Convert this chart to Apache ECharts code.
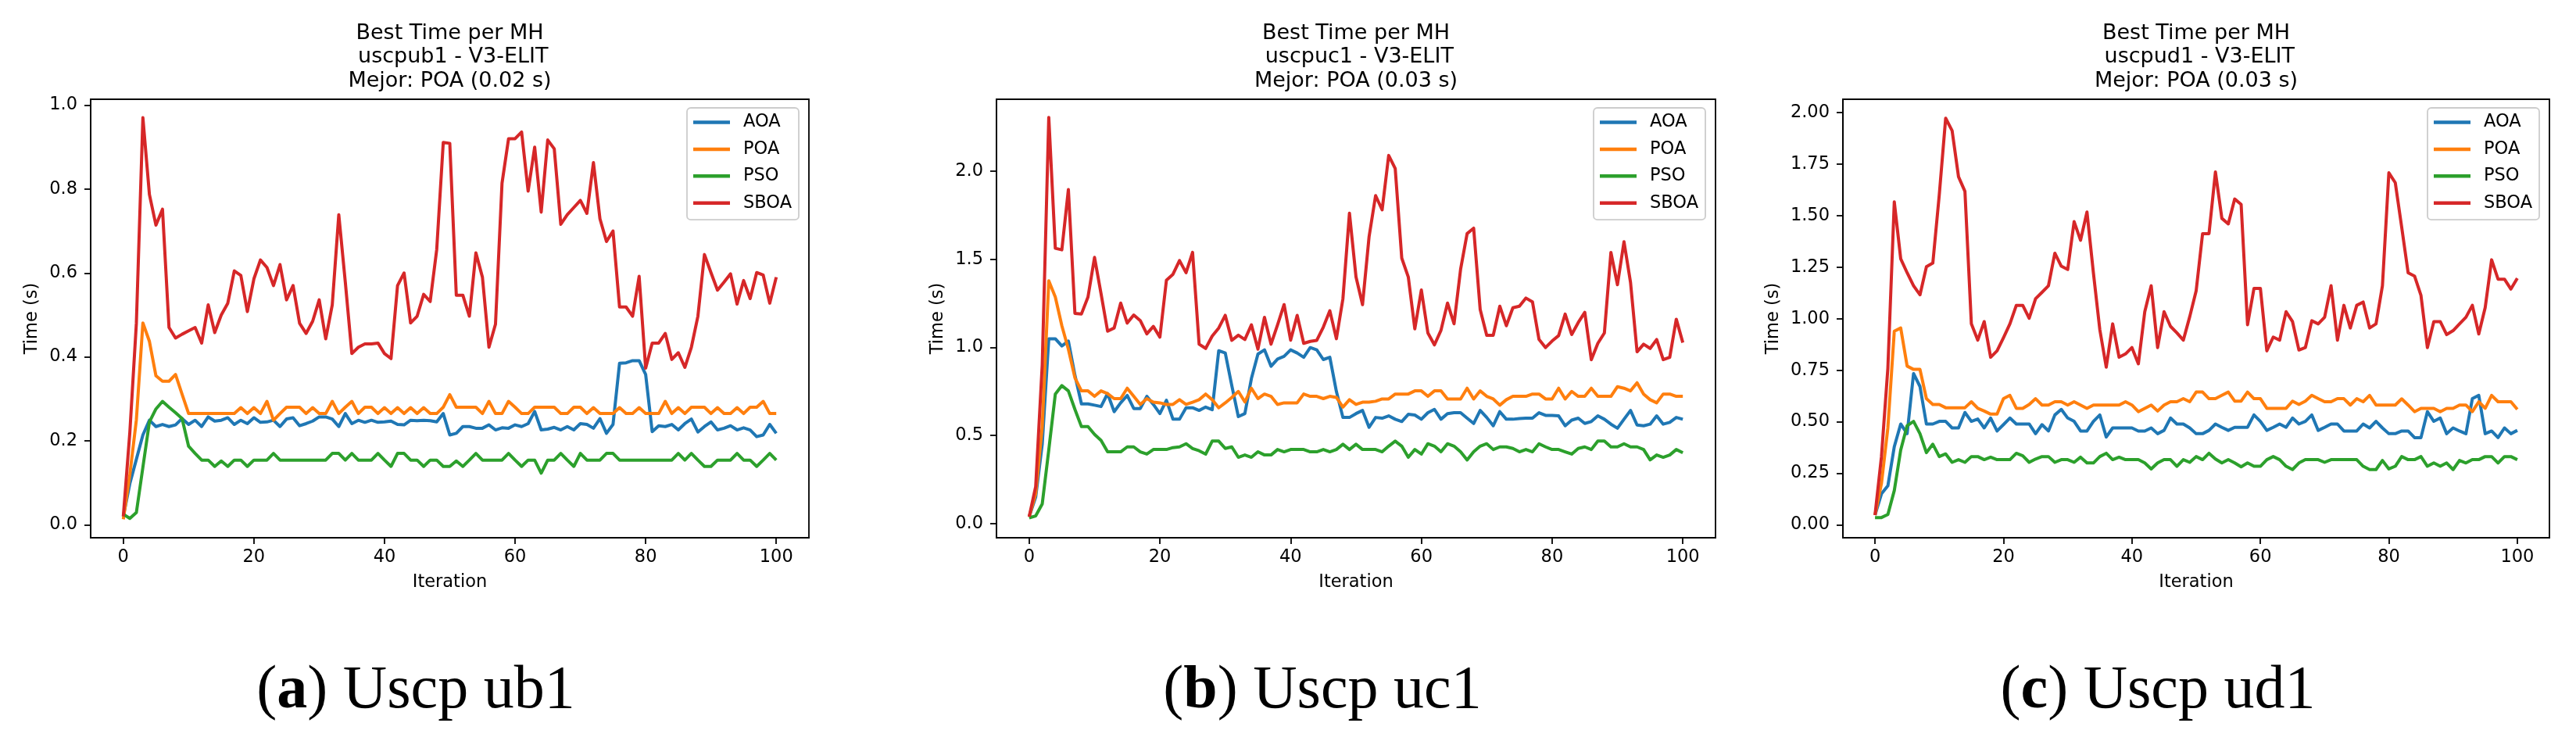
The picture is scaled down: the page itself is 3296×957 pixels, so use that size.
<!DOCTYPE html>
<html>
<head>
<meta charset="utf-8">
<script src="https://cdn.jsdelivr.net/npm/echarts@6/dist/echarts.min.js"></script>
<style>
  body { margin: 0; background: #fff; }
  #chart { width: 3296px; height: 957px; }
</style>
</head>
<body>
<div id="chart"></div>
<script>
const seriesNames = ["AOA", "POA", "PSO", "SBOA"];
const seriesColors = ["#1f77b4", "#ff7f0e", "#2ca02c", "#d62728"];
const xTicks = [0, 20, 40, 60, 80, 100];

// (a) uscpub1
const ub1AOA = [0.02, 0.098, 0.156, 0.214, 0.249, 0.234, 0.239, 0.234, 0.238, 0.253,
  0.239, 0.249, 0.234, 0.257, 0.247, 0.249, 0.255, 0.239, 0.249, 0.241,
  0.255, 0.244, 0.245, 0.249, 0.234, 0.252, 0.255, 0.236, 0.241, 0.247,
  0.257, 0.257, 0.252, 0.234, 0.265, 0.241, 0.249, 0.244, 0.249, 0.244,
  0.245, 0.247, 0.239, 0.238, 0.249, 0.248, 0.249, 0.248, 0.245, 0.265,
  0.214, 0.218, 0.234, 0.234, 0.23, 0.23, 0.238, 0.226, 0.231, 0.23,
  0.238, 0.234, 0.241, 0.27, 0.226, 0.228, 0.232, 0.226, 0.234, 0.226,
  0.241, 0.239, 0.23, 0.253, 0.218, 0.239, 0.385, 0.386, 0.391, 0.391,
  0.358, 0.222, 0.236, 0.234, 0.239, 0.226, 0.241, 0.252, 0.221, 0.234,
  0.245, 0.226, 0.23, 0.236, 0.226, 0.231, 0.226, 0.21, 0.214, 0.239, 0.218];
const ub1POA = [0.013, 0.12, 0.25, 0.481, 0.437, 0.355, 0.342, 0.342, 0.358, 0.311,
  0.265, 0.265, 0.265, 0.265, 0.265, 0.265, 0.265, 0.265, 0.279, 0.265,
  0.279, 0.265, 0.294, 0.249, 0.265, 0.28, 0.28, 0.28, 0.265, 0.279,
  0.265, 0.265, 0.294, 0.265, 0.28, 0.294, 0.265, 0.28, 0.28, 0.265,
  0.279, 0.265, 0.279, 0.265, 0.279, 0.265, 0.279, 0.265, 0.265, 0.28,
  0.31, 0.28, 0.28, 0.28, 0.28, 0.265, 0.294, 0.265, 0.265, 0.294,
  0.28, 0.265, 0.265, 0.28, 0.28, 0.28, 0.28, 0.265, 0.265, 0.28,
  0.28, 0.265, 0.279, 0.265, 0.265, 0.265, 0.279, 0.265, 0.265, 0.279,
  0.265, 0.265, 0.265, 0.294, 0.265, 0.279, 0.265, 0.28, 0.28, 0.28,
  0.265, 0.279, 0.265, 0.265, 0.279, 0.265, 0.28, 0.28, 0.294, 0.265, 0.265];
const ub1PSO = [0.025, 0.015, 0.029, 0.137, 0.245, 0.276, 0.294, 0.28, 0.267, 0.253,
  0.187, 0.17, 0.154, 0.154, 0.139, 0.152, 0.139, 0.154, 0.154, 0.139,
  0.154, 0.154, 0.154, 0.17, 0.154, 0.154, 0.154, 0.154, 0.154, 0.154,
  0.154, 0.154, 0.17, 0.17, 0.154, 0.17, 0.154, 0.154, 0.154, 0.17,
  0.154, 0.139, 0.17, 0.17, 0.154, 0.154, 0.139, 0.154, 0.154, 0.139,
  0.139, 0.152, 0.139, 0.154, 0.17, 0.154, 0.154, 0.154, 0.154, 0.17,
  0.154, 0.139, 0.154, 0.154, 0.123, 0.154, 0.154, 0.17, 0.154, 0.139,
  0.17, 0.154, 0.154, 0.154, 0.17, 0.17, 0.154, 0.154, 0.154, 0.154,
  0.154, 0.154, 0.154, 0.154, 0.154, 0.17, 0.154, 0.17, 0.154, 0.139,
  0.139, 0.154, 0.154, 0.154, 0.17, 0.154, 0.154, 0.139, 0.154, 0.17, 0.154];
const ub1SBOA = [0.02, 0.22, 0.48, 0.97, 0.787, 0.714, 0.752, 0.47, 0.445, 0.454,
  0.462, 0.47, 0.433, 0.524, 0.458, 0.5, 0.528, 0.605, 0.594, 0.508,
  0.586, 0.631, 0.613, 0.57, 0.62, 0.536, 0.57, 0.48, 0.456, 0.485,
  0.536, 0.443, 0.524, 0.739, 0.578, 0.408, 0.423, 0.431, 0.431, 0.433,
  0.408, 0.396, 0.57, 0.6, 0.481, 0.497, 0.549, 0.532, 0.656, 0.911,
  0.909, 0.547, 0.547, 0.497, 0.648, 0.59, 0.423, 0.478, 0.814, 0.92,
  0.92, 0.936, 0.795, 0.9, 0.745, 0.917, 0.896, 0.716, 0.739, 0.756,
  0.773, 0.742, 0.863, 0.729, 0.675, 0.7, 0.519, 0.519, 0.497, 0.592,
  0.373, 0.433, 0.433, 0.456, 0.394, 0.41, 0.375, 0.423, 0.497, 0.644,
  0.601, 0.559, 0.578, 0.598, 0.526, 0.582, 0.539, 0.601, 0.595, 0.528, 0.59];

// (b) uscpuc1
const uc1AOA = [0.038, 0.15, 0.45, 1.049, 1.049, 1.008, 1.036, 0.842, 0.679, 0.679,
  0.672, 0.664, 0.738, 0.635, 0.685, 0.727, 0.653, 0.653, 0.722, 0.676,
  0.624, 0.7, 0.592, 0.592, 0.657, 0.657, 0.642, 0.661, 0.646, 0.981,
  0.968, 0.783, 0.607, 0.624, 0.823, 0.962, 0.986, 0.893, 0.934, 0.949,
  0.986, 0.968, 0.944, 0.999, 0.986, 0.931, 0.944, 0.75, 0.602, 0.602,
  0.624, 0.642, 0.546, 0.602, 0.598, 0.611, 0.592, 0.579, 0.62, 0.616,
  0.592, 0.629, 0.648, 0.592, 0.624, 0.629, 0.629, 0.598, 0.568, 0.642,
  0.602, 0.555, 0.635, 0.592, 0.592, 0.596, 0.598, 0.598, 0.629, 0.614,
  0.614, 0.611, 0.555, 0.587, 0.598, 0.568, 0.579, 0.611, 0.592, 0.564,
  0.541, 0.592, 0.642, 0.559, 0.555, 0.564, 0.611, 0.564, 0.574, 0.602, 0.592];
const uc1POA = [0.038, 0.17, 0.55, 1.378, 1.286, 1.123, 0.99, 0.827, 0.753, 0.753,
  0.722, 0.753, 0.737, 0.709, 0.709, 0.768, 0.722, 0.676, 0.709, 0.689,
  0.685, 0.676, 0.676, 0.703, 0.676, 0.689, 0.703, 0.735, 0.703, 0.657,
  0.685, 0.716, 0.75, 0.69, 0.768, 0.709, 0.735, 0.722, 0.676, 0.685,
  0.685, 0.685, 0.735, 0.722, 0.722, 0.709, 0.722, 0.716, 0.661, 0.703,
  0.676, 0.689, 0.689, 0.694, 0.707, 0.707, 0.735, 0.735, 0.735, 0.753,
  0.753, 0.722, 0.753, 0.753, 0.707, 0.707, 0.707, 0.768, 0.707, 0.753,
  0.722, 0.707, 0.672, 0.703, 0.722, 0.722, 0.722, 0.735, 0.735, 0.707,
  0.707, 0.768, 0.707, 0.75, 0.722, 0.722, 0.768, 0.722, 0.722, 0.722,
  0.777, 0.768, 0.753, 0.799, 0.735, 0.703, 0.685, 0.735, 0.735, 0.722, 0.722];
const uc1PSO = [0.032, 0.043, 0.111, 0.417, 0.735, 0.783, 0.753, 0.648, 0.55, 0.55,
  0.506, 0.472, 0.407, 0.407, 0.407, 0.435, 0.435, 0.407, 0.394, 0.42,
  0.42, 0.42, 0.431, 0.435, 0.453, 0.426, 0.413, 0.394, 0.468, 0.468,
  0.426, 0.435, 0.376, 0.389, 0.376, 0.407, 0.389, 0.389, 0.42, 0.407,
  0.42, 0.42, 0.42, 0.407, 0.407, 0.42, 0.407, 0.42, 0.45, 0.42,
  0.45, 0.42, 0.42, 0.42, 0.407, 0.439, 0.468, 0.439, 0.376, 0.42,
  0.394, 0.453, 0.439, 0.407, 0.453, 0.439, 0.407, 0.361, 0.407, 0.439,
  0.453, 0.42, 0.435, 0.435, 0.426, 0.407, 0.42, 0.407, 0.453, 0.435,
  0.42, 0.42, 0.407, 0.394, 0.426, 0.435, 0.42, 0.468, 0.468, 0.435,
  0.435, 0.453, 0.435, 0.435, 0.42, 0.361, 0.389, 0.376, 0.389, 0.42, 0.402];
const uc1SBOA = [0.038, 0.21, 0.9, 2.306, 1.563, 1.554, 1.896, 1.193, 1.19, 1.286,
  1.511, 1.304, 1.092, 1.11, 1.252, 1.138, 1.184, 1.152, 1.077, 1.119,
  1.058, 1.382, 1.415, 1.493, 1.424, 1.54, 1.018, 0.994, 1.064, 1.11,
  1.182, 1.04, 1.069, 1.045, 1.128, 0.99, 1.171, 1.018, 1.128, 1.243,
  1.041, 1.182, 1.023, 1.034, 1.04, 1.115, 1.208, 1.049, 1.276, 1.762,
  1.4, 1.243, 1.628, 1.862, 1.781, 2.09, 2.016, 1.507, 1.4, 1.105,
  1.326, 1.082, 1.014, 1.097, 1.252, 1.134, 1.443, 1.646, 1.677, 1.215,
  1.069, 1.069, 1.234, 1.123, 1.225, 1.234, 1.28, 1.258, 1.045, 0.999,
  1.036, 1.067, 1.189, 1.073, 1.141, 1.199, 0.93, 1.023, 1.082, 1.539,
  1.356, 1.6, 1.369, 0.975, 1.018, 0.994, 1.045, 0.93, 0.944, 1.16, 1.027];

// (c) uscpud1
const ud1AOA = [0.047, 0.15, 0.189, 0.379, 0.489, 0.442, 0.734, 0.671, 0.489, 0.489,
  0.502, 0.502, 0.47, 0.47, 0.545, 0.502, 0.513, 0.47, 0.518, 0.455,
  0.486, 0.518, 0.489, 0.489, 0.489, 0.442, 0.486, 0.455, 0.533, 0.56,
  0.518, 0.502, 0.455, 0.455, 0.502, 0.533, 0.426, 0.47, 0.47, 0.47,
  0.47, 0.455, 0.455, 0.47, 0.442, 0.458, 0.518, 0.489, 0.489, 0.47,
  0.442, 0.442, 0.458, 0.489, 0.473, 0.458, 0.473, 0.473, 0.473, 0.533,
  0.502, 0.458, 0.473, 0.489, 0.473, 0.518, 0.489, 0.502, 0.533, 0.458,
  0.473, 0.489, 0.489, 0.455, 0.455, 0.455, 0.489, 0.47, 0.502, 0.47,
  0.442, 0.442, 0.455, 0.455, 0.423, 0.423, 0.549, 0.502, 0.518, 0.442,
  0.47, 0.455, 0.442, 0.612, 0.628, 0.442, 0.455, 0.423, 0.47, 0.442, 0.458];
const ud1POA = [0.047, 0.2, 0.47, 0.939, 0.955, 0.77, 0.754, 0.754, 0.612, 0.584,
  0.584, 0.568, 0.568, 0.568, 0.568, 0.597, 0.565, 0.552, 0.537, 0.537,
  0.612, 0.628, 0.565, 0.565, 0.584, 0.612, 0.581, 0.581, 0.597, 0.597,
  0.581, 0.597, 0.581, 0.565, 0.581, 0.581, 0.581, 0.581, 0.581, 0.597,
  0.581, 0.549, 0.565, 0.581, 0.552, 0.581, 0.597, 0.597, 0.612, 0.597,
  0.644, 0.644, 0.612, 0.612, 0.628, 0.644, 0.6, 0.6, 0.644, 0.612,
  0.612, 0.565, 0.565, 0.565, 0.565, 0.6, 0.584, 0.6, 0.628, 0.612,
  0.597, 0.597, 0.612, 0.612, 0.581, 0.612, 0.597, 0.628, 0.581, 0.581,
  0.581, 0.581, 0.611, 0.581, 0.549, 0.565, 0.565, 0.565, 0.549, 0.565,
  0.565, 0.581, 0.581, 0.549, 0.597, 0.565, 0.628, 0.597, 0.597, 0.597, 0.56];
const ud1PSO = [0.035, 0.035, 0.05, 0.166, 0.363, 0.481, 0.502, 0.442, 0.35, 0.391,
  0.331, 0.344, 0.303, 0.316, 0.303, 0.331, 0.331, 0.316, 0.328, 0.316,
  0.316, 0.316, 0.347, 0.335, 0.303, 0.319, 0.331, 0.331, 0.303, 0.316,
  0.316, 0.303, 0.328, 0.3, 0.3, 0.331, 0.347, 0.316, 0.328, 0.316,
  0.316, 0.316, 0.3, 0.271, 0.3, 0.316, 0.316, 0.284, 0.316, 0.303,
  0.331, 0.316, 0.347, 0.319, 0.3, 0.316, 0.3, 0.281, 0.3, 0.284,
  0.284, 0.316, 0.331, 0.316, 0.284, 0.268, 0.3, 0.316, 0.316, 0.316,
  0.303, 0.316, 0.316, 0.316, 0.316, 0.316, 0.284, 0.268, 0.268, 0.312,
  0.271, 0.284, 0.331, 0.316, 0.316, 0.331, 0.284, 0.3, 0.284, 0.3,
  0.268, 0.312, 0.3, 0.316, 0.316, 0.331, 0.331, 0.3, 0.331, 0.331, 0.316];
const ud1SBOA = [0.047, 0.33, 0.76, 1.567, 1.291, 1.223, 1.16, 1.116, 1.252, 1.27,
  1.6, 1.973, 1.913, 1.689, 1.618, 0.975, 0.896, 0.986, 0.813, 0.844,
  0.908, 0.975, 1.065, 1.065, 1.002, 1.097, 1.128, 1.16, 1.318, 1.255,
  1.239, 1.471, 1.381, 1.518, 1.223, 0.947, 0.765, 0.975, 0.813, 0.829,
  0.86, 0.781, 1.034, 1.16, 0.86, 1.034, 0.963, 0.931, 0.896, 1.01,
  1.136, 1.413, 1.413, 1.712, 1.487, 1.46, 1.581, 1.555, 0.971, 1.147,
  1.147, 0.844, 0.911, 0.896, 1.034, 0.986, 0.848, 0.86, 0.99, 0.975,
  1.007, 1.16, 0.896, 1.065, 0.955, 1.065, 1.081, 0.955, 0.975, 1.16,
  1.708, 1.66, 1.444, 1.223, 1.207, 1.113, 0.86, 0.986, 0.986, 0.923,
  0.942, 0.975, 1.007, 1.065, 0.926, 1.054, 1.286, 1.192, 1.192, 1.144, 1.196];

const ub1Ticks = [0, 0.2, 0.4, 0.6, 0.8, 1.0];
const uc1Ticks = [0, 0.5, 1.0, 1.5, 2.0];
const ud1Ticks = [0, 0.25, 0.5, 0.75, 1.0, 1.25, 1.5, 1.75, 2.0];

const titles = [
  "Best Time per MH\n uscpub1 - V3-ELIT\nMejor: POA (0.02 s)",
  "Best Time per MH\n uscpuc1 - V3-ELIT\nMejor: POA (0.03 s)",
  "Best Time per MH\n uscpud1 - V3-ELIT\nMejor: POA (0.03 s)",
];
const captionLetters = ["a", "b", "c"];
const captionNames = ["Uscp ub1", "Uscp uc1", "Uscp ud1"];

// layout of the three panels (pixels)
const panels = [
  { left: 116, width: 919, yMin: -0.031, yMax: 1.014, ticks: ub1Ticks, dec: 1, nameGap: 63, capX: 532,
    data: [ub1AOA, ub1POA, ub1PSO, ub1SBOA] },
  { left: 1275, width: 920, yMin: -0.081, yMax: 2.409, ticks: uc1Ticks, dec: 1, nameGap: 63, capX: 1692,
    data: [uc1AOA, uc1POA, uc1PSO, uc1SBOA] },
  { left: 2358, width: 904, yMin: -0.063, yMax: 2.065, ticks: ud1Ticks, dec: 2, nameGap: 77, capX: 2761,
    data: [ud1AOA, ud1POA, ud1PSO, ud1SBOA] },
];
const gridTop = 127;
const gridHeight = 561;
const fontMain = "DejaVu Sans";
const tickFont = 22.5;

function buildOption() {
  const grid = [], xAxis = [], yAxis = [], series = [], legend = [], title = [];
  panels.forEach((p, k) => {
    grid.push({
      left: p.left, top: gridTop, width: p.width, height: gridHeight,
      show: true, borderColor: "#000", borderWidth: 1.8, backgroundColor: "#fff",
    });
    xAxis.push({
      gridIndex: k, type: "value", min: -5, max: 105,
      name: "Iteration", nameLocation: "middle", nameGap: 46,
      nameTextStyle: { fontFamily: fontMain, fontSize: tickFont, color: "#000" },
      axisLine: { show: true, onZero: false, lineStyle: { color: "#000", width: 1.8 } },
      axisTick: { show: true, length: 8, lineStyle: { color: "#000", width: 1.8 }, customValues: xTicks },
      axisLabel: { margin: 14, fontFamily: fontMain, fontSize: tickFont, color: "#000", customValues: xTicks },
      splitLine: { show: false },
    });
    yAxis.push({
      gridIndex: k, type: "value", min: p.yMin, max: p.yMax,
      name: "Time (s)", nameLocation: "middle", nameGap: p.nameGap, nameRotate: 90,
      nameTextStyle: { fontFamily: fontMain, fontSize: tickFont, color: "#000" },
      axisLine: { show: true, onZero: false, lineStyle: { color: "#000", width: 1.8 } },
      axisTick: { show: true, length: 8, lineStyle: { color: "#000", width: 1.8 }, customValues: p.ticks },
      axisLabel: {
        margin: 17, fontFamily: fontMain, fontSize: tickFont, color: "#000", customValues: p.ticks,
        formatter: (v) => Number(v).toFixed(p.dec),
      },
      splitLine: { show: false },
    });
    p.data.forEach((vals, s) => {
      series.push({
        type: "line", name: seriesNames[s], xAxisIndex: k, yAxisIndex: k,
        data: vals.map((v, i) => [i, v]),
        symbol: "none", color: seriesColors[s],
        lineStyle: { width: 4, color: seriesColors[s], join: "round" },
        animation: false,
      });
    });
    legend.push({
      data: seriesNames, orient: "vertical",
      left: p.left + p.width - 156, top: 138,
      icon: "rect", itemWidth: 47, itemHeight: 4.5, itemGap: 11.4,
      padding: [7, 9, 10, 8],
      backgroundColor: "rgba(255,255,255,0.8)", borderColor: "#cccccc", borderWidth: 1.8, borderRadius: 5,
      textStyle: { fontFamily: fontMain, fontSize: tickFont, lineHeight: 22, color: "#000", padding: [0, 0, 0, 12] },
      selectedMode: false,
    });
    title.push({
      text: titles[k], left: p.left + p.width / 2, top: 27.5, textAlign: "center", padding: 0,
      textStyle: { fontFamily: fontMain, fontSize: 27, lineHeight: 30.5, fontWeight: "normal", color: "#000" },
    });
    title.push({
      text: "({b|" + captionLetters[k] + "}) " + captionNames[k],
      left: p.capX, top: 845, textAlign: "center", padding: 0,
      textStyle: {
        fontFamily: "Liberation Serif", fontSize: 78, lineHeight: 80, fontWeight: "normal", color: "#000",
        rich: { b: { fontFamily: "Liberation Serif", fontSize: 78, lineHeight: 80, fontWeight: "bold", color: "#000" } },
      },
    });
  });
  return { backgroundColor: "#fff", animation: false, title, legend, grid, xAxis, yAxis, series };
}

const chartDom = document.getElementById("chart");
const myChart = echarts.init(chartDom, null, { renderer: "canvas" });
myChart.setOption(buildOption());
</script>
</body>
</html>
